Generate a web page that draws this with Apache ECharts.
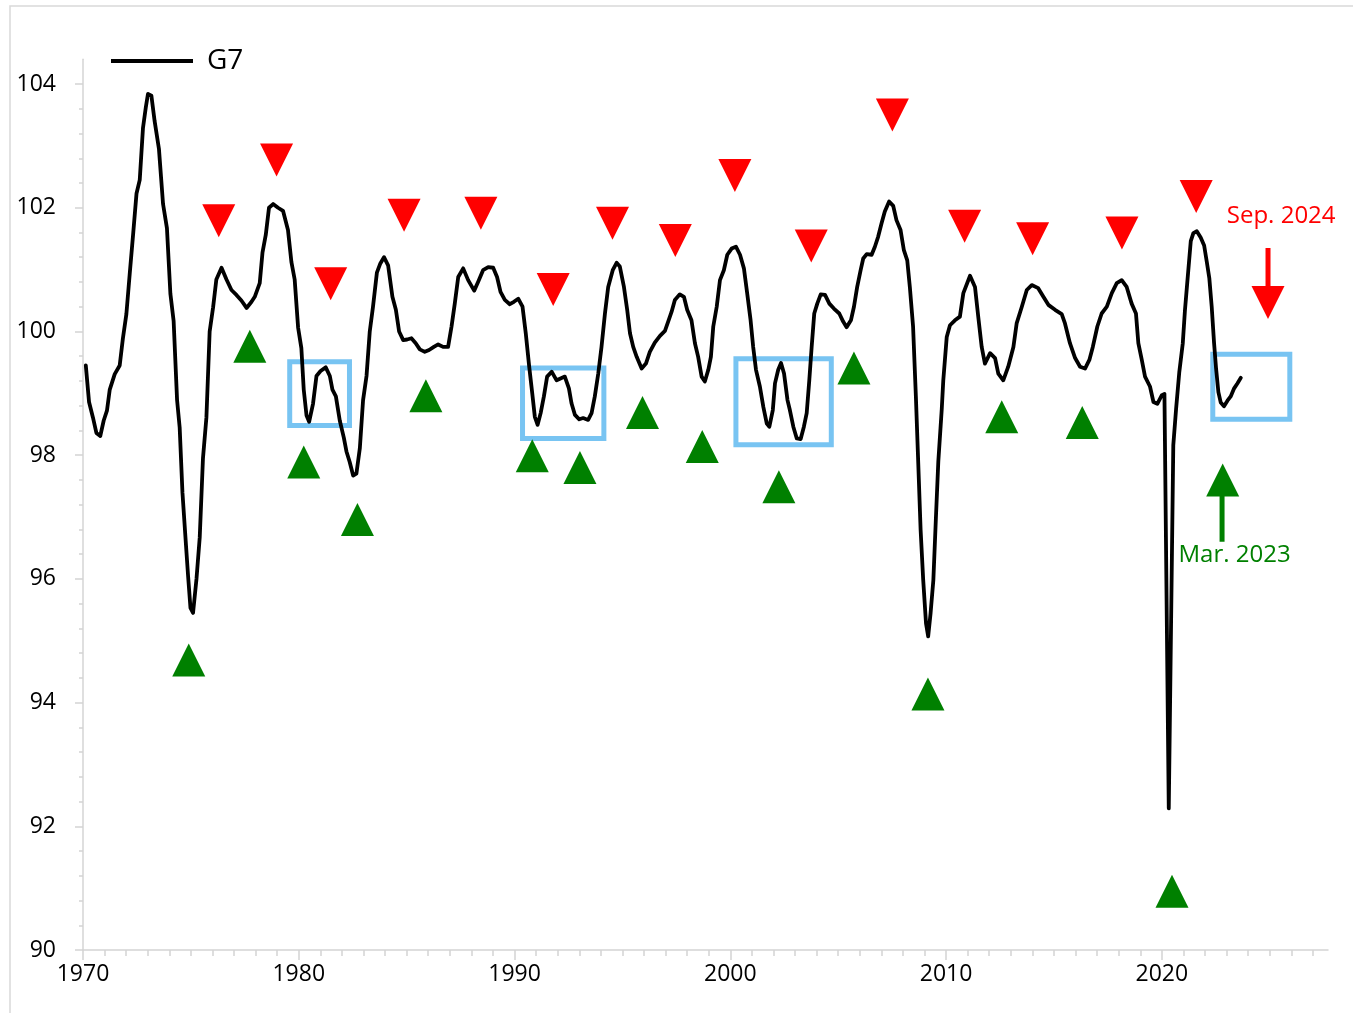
<!DOCTYPE html>
<html><head><meta charset="utf-8">
<script src="https://cdn.jsdelivr.net/npm/echarts@6/dist/echarts.min.js"></script>
<style>html,body{margin:0;padding:0;background:#fff}#c{width:1353px;height:1013px}</style>
</head><body><div id="c"></div>
<script>
// G7 composite leading indicator: [year, value]
const g7 = [
[1970.13,99.45],[1970.28,98.86],[1970.46,98.61],[1970.62,98.36],[1970.8,98.31],[1970.96,98.56],[1971.11,98.72],[1971.24,99.06],[1971.47,99.31],[1971.7,99.45],[1971.85,99.89],[1972.01,100.28],[1972.17,100.95],[1972.32,101.56],[1972.48,102.23],[1972.63,102.45],[1972.78,103.29],[1972.91,103.62],[1973.01,103.84],[1973.17,103.81],[1973.32,103.4],[1973.52,102.95],[1973.71,102.06],[1973.89,101.67],[1974.05,100.61],[1974.2,100.17],[1974.36,98.89],[1974.48,98.45],[1974.61,97.39],[1974.76,96.61],[1974.87,96.05],[1974.98,95.53],[1975.1,95.45],[1975.26,96.0],[1975.41,96.67],[1975.56,97.95],[1975.72,98.61],[1975.87,100.0],[1976.03,100.39],[1976.18,100.84],[1976.42,101.03],[1976.65,100.84],[1976.88,100.67],[1977.11,100.59],[1977.34,100.5],[1977.58,100.38],[1977.81,100.48],[1977.96,100.56],[1978.19,100.78],[1978.32,101.28],[1978.47,101.56],[1978.62,102.0],[1978.81,102.06],[1979.04,102.0],[1979.27,101.95],[1979.5,101.64],[1979.66,101.12],[1979.81,100.84],[1979.97,100.06],[1980.12,99.73],[1980.23,99.06],[1980.36,98.64],[1980.48,98.54],[1980.66,98.83],[1980.82,99.28],[1981.01,99.36],[1981.25,99.42],[1981.44,99.28],[1981.56,99.06],[1981.72,98.95],[1981.9,98.56],[1982.09,98.28],[1982.21,98.06],[1982.36,97.89],[1982.52,97.67],[1982.67,97.7],[1982.83,98.11],[1982.98,98.89],[1983.14,99.28],[1983.29,100.0],[1983.44,100.4],[1983.62,100.95],[1983.78,101.1],[1983.95,101.2],
[1984.14,101.07],[1984.34,100.56],[1984.5,100.35],[1984.65,100.0],[1984.84,99.86],[1985.02,99.87],[1985.22,99.89],[1985.42,99.81],[1985.61,99.71],[1985.84,99.67],[1986.04,99.7],[1986.26,99.75],[1986.46,99.79],[1986.69,99.75],[1986.92,99.75],[1987.08,100.08],[1987.23,100.45],[1987.39,100.88],[1987.62,101.02],[1987.85,100.83],[1988.13,100.66],[1988.31,100.8],[1988.54,100.99],[1988.78,101.04],[1989.01,101.03],[1989.19,100.88],[1989.35,100.64],[1989.55,100.51],[1989.78,100.44],[1989.97,100.48],[1990.17,100.53],[1990.37,100.4],[1990.52,99.97],[1990.68,99.43],[1990.82,99.0],[1990.94,98.62],[1991.07,98.49],[1991.21,98.68],[1991.36,98.95],[1991.51,99.27],[1991.72,99.35],[1991.95,99.21],[1992.13,99.24],[1992.33,99.27],[1992.52,99.08],[1992.64,98.84],[1992.8,98.65],[1993.0,98.58],[1993.18,98.6],[1993.41,98.57],[1993.57,98.68],[1993.72,98.95],[1993.88,99.32],[1994.03,99.75],[1994.19,100.29],[1994.34,100.72],[1994.55,100.99],[1994.73,101.11],[1994.88,101.05],[1995.07,100.72],[1995.22,100.35],[1995.35,99.97],[1995.5,99.75],[1995.66,99.59],[1995.89,99.4],[1996.09,99.48],[1996.27,99.67],[1996.5,99.82],[1996.74,99.93],[1996.97,100.01],
[1997.12,100.16],[1997.28,100.32],[1997.43,100.51],[1997.66,100.6],[1997.85,100.56],[1998.0,100.35],[1998.2,100.18],[1998.36,99.81],[1998.51,99.59],[1998.67,99.27],[1998.82,99.19],[1998.98,99.38],[1999.1,99.59],[1999.21,100.08],[1999.37,100.4],[1999.52,100.83],[1999.7,100.99],[1999.86,101.24],[2000.06,101.34],[2000.26,101.37],[2000.45,101.24],[2000.63,101.02],[2000.78,100.62],[2000.94,100.18],[2001.06,99.75],[2001.19,99.38],[2001.37,99.11],[2001.53,98.78],[2001.69,98.51],[2001.81,98.46],[2001.97,98.73],[2002.07,99.16],[2002.22,99.38],[2002.35,99.49],[2002.49,99.32],[2002.65,98.89],[2002.76,98.73],[2002.92,98.46],[2003.08,98.27],[2003.26,98.26],[2003.41,98.46],[2003.54,98.68],[2003.66,99.21],[2003.77,99.75],[2003.89,100.29],[2004.03,100.45],[2004.19,100.6],[2004.39,100.59],[2004.59,100.45],[2004.8,100.37],[2005.05,100.29],[2005.23,100.16],[2005.39,100.07],[2005.59,100.18],[2005.73,100.4],[2005.88,100.72],[2006.04,100.99],[2006.16,101.18],[2006.32,101.25],[2006.55,101.24],[2006.7,101.37],[2006.85,101.53],[2007.01,101.75],[2007.16,101.94],[2007.36,102.1],[2007.55,102.03],[2007.7,101.8],[2007.89,101.64],[2008.04,101.32],[2008.2,101.15],[2008.32,100.72],[2008.47,100.08],[2008.6,98.95],[2008.71,97.87],[2008.82,96.79],[2008.94,95.98],[2009.07,95.28],[2009.17,95.07],[2009.28,95.44],[2009.41,95.98],[2009.53,97.0],[2009.64,97.9],[2009.8,98.75],[2009.87,99.21],
[2010.03,99.91],[2010.18,100.1],[2010.41,100.18],[2010.64,100.24],[2010.8,100.62],[2011.11,100.9],[2011.34,100.72],[2011.49,100.24],[2011.65,99.75],[2011.8,99.48],[2012.04,99.65],[2012.27,99.57],[2012.42,99.32],[2012.65,99.21],[2012.88,99.43],[2013.12,99.75],[2013.27,100.13],[2013.51,100.4],[2013.74,100.67],[2013.97,100.75],[2014.27,100.7],[2014.51,100.56],[2014.74,100.43],[2015.05,100.35],[2015.36,100.28],[2015.51,100.13],[2015.74,99.81],[2015.98,99.57],[2016.21,99.43],[2016.44,99.4],[2016.64,99.54],[2016.8,99.75],[2017.01,100.08],[2017.21,100.29],[2017.45,100.4],[2017.68,100.62],[2017.91,100.78],[2018.14,100.83],[2018.37,100.72],[2018.6,100.45],[2018.8,100.29],[2018.91,99.81],[2019.07,99.54],[2019.22,99.27],[2019.45,99.11],[2019.61,98.86],[2019.79,98.83],[2020.0,98.97],[2020.12,98.99],[2020.32,92.29],[2020.53,98.16],[2020.66,98.75],[2020.81,99.35],[2020.97,99.81],[2021.07,100.34],[2021.18,100.8],[2021.34,101.46],[2021.46,101.59],[2021.62,101.62],[2021.8,101.52],[2021.96,101.39],[2022.08,101.13],[2022.2,100.86],[2022.31,100.4],[2022.42,99.81],[2022.51,99.41],[2022.62,99.02],[2022.73,98.85],[2022.88,98.79],[2023.04,98.88],[2023.19,98.95],[2023.35,99.08],[2023.5,99.16],[2023.66,99.25]
];
// Peak markers (red, pointing down)
const peakMarks = [[1976.29,101.79],[1978.97,102.77],[1981.48,100.77],[1984.88,101.88],[1988.44,101.91],[1991.79,100.68],[1994.54,101.75],[1997.45,101.47],[2000.21,102.52],[2003.75,101.38],[2007.51,103.5],[2010.86,101.7],[2014.01,101.5],[2018.15,101.59],[2021.59,102.18]];
// Trough markers (green, pointing up)
const troughMarks = [[1974.9,94.69],[1977.73,99.76],[1980.23,97.89],[1982.72,96.96],[1985.89,98.96],[1990.82,97.99],[1993.03,97.8],[1995.93,98.69],[1998.7,98.14],[2002.25,97.49],[2005.73,99.41],[2009.16,94.14],[2012.58,98.62],[2016.31,98.53],[2020.47,90.95]];
// Highlight boxes: [x1, y1, x2, y2]
const boxes = [[1979.58,99.51,1982.35,98.48],[1990.37,99.41,1994.14,98.27],[2000.26,99.56,2004.68,98.17],[2022.36,99.63,2025.93,98.58]];
// Arrows: head position and shaft
const marArrowHead = [2022.82,97.6];
const marArrowShaft = [[2022.79,97.4],[2022.79,96.6]];
const sepArrowHead = [2024.92,100.47];
const sepArrowShaft = [[2024.92,101.35],[2024.92,100.6]];
const notes = [{name:'Mar. 2023', value:[2023.37,96.39], color:'#008000'},{name:'Sep. 2024', value:[2025.53,101.87], color:'#ff0000'}];
// Axis ticks / labels
const xLabels = [1970,1980,1990,2000,2010,2020];
const yLabels = [90,92,94,96,98,100,102,104];
const xMinor = []; for (let y = 1971; y <= 2027; y++) xMinor.push(y);
const yMinor = []; for (let i = 0; i <= 35; i++) yMinor.push(Math.round((90 + i*0.4)*10)/10);

const FONT = '"Open Sans", "Liberation Sans", sans-serif';
const AX = '#d4d4d4';
const chart = echarts.init(document.getElementById('c'));
const xBase = {type:'value', min:1970, max:2027.7, position:'bottom', splitLine:{show:false}};
const yBase = {type:'value', min:90, max:104.4, position:'left', splitLine:{show:false}};
chart.setOption({
  animation:false,
  backgroundColor:'#fff',
  graphic:[{type:'rect', shape:{x:10, y:6, width:1400, height:1100}, style:{fill:'none', stroke:'#d9d9d9', lineWidth:1.5}, silent:true, z:-10}],
  grid:{left:83, right:25, top:59.3, bottom:63, containLabel:false},
  legend:{data:[{name:'G7', icon:'rect', itemStyle:{color:'#000'}}], left:111, top:47, padding:0, itemWidth:82, itemHeight:4,
    textStyle:{fontSize:28, color:'#000', fontFamily:FONT, padding:[0,0,0,9]}},
  xAxis:[
    Object.assign({}, xBase, {axisLine:{onZero:false, lineStyle:{color:AX, width:1.5}}, axisTick:{customValues:xLabels, length:10, lineStyle:{color:AX, width:1.5}}, axisLabel:{customValues:xLabels, formatter:v=>String(v), fontSize:23, color:'#000', fontFamily:FONT, margin:13}}),
    Object.assign({}, xBase, {axisLine:{show:false}, axisTick:{customValues:xMinor, length:6, lineStyle:{color:AX, width:1.5}}, axisLabel:{show:false}})
  ],
  yAxis:[
    Object.assign({}, yBase, {axisLine:{show:true, onZero:false, lineStyle:{color:AX, width:1.5}}, axisTick:{show:true, customValues:yLabels, length:8, lineStyle:{color:AX, width:1.5}}, axisLabel:{customValues:yLabels, formatter:v=>String(v), fontSize:23, color:'#000', fontFamily:FONT, margin:27}}),
    Object.assign({}, yBase, {axisLine:{show:false}, axisTick:{show:true, customValues:yMinor, length:4, lineStyle:{color:AX, width:1.5}}, axisLabel:{show:false}})
  ],
  series:[
    {name:'boxes', type:'scatter', data:[], silent:true, z:2,
     markArea:{silent:true, itemStyle:{color:'rgba(0,0,0,0)', borderColor:'#78c4f2', borderWidth:5, opacity:1}, label:{show:false},
       data: boxes.map(b=>[{coord:[b[0],b[1]]},{coord:[b[2],b[3]]}])}},
    {name:'G7', type:'line', data:g7, showSymbol:false, symbol:'none', z:5,
     lineStyle:{color:'#000', width:3.8, join:'round', cap:'round'}, itemStyle:{color:'#000'}},
    {name:'peaks', type:'scatter', data:peakMarks, symbol:'triangle', symbolRotate:180, symbolSize:[33,33], itemStyle:{color:'#ff0000', opacity:1}, z:4, silent:true},
    {name:'troughs', type:'scatter', data:troughMarks, symbol:'triangle', symbolSize:[33,33], itemStyle:{color:'#008000', opacity:1}, z:4, silent:true},
    {name:'marShaft', type:'line', data:marArrowShaft, symbol:'none', lineStyle:{color:'#008000', width:5}, z:4, silent:true},
    {name:'marHead', type:'scatter', data:[marArrowHead], symbol:'triangle', symbolSize:[33,33], itemStyle:{color:'#008000', opacity:1}, z:4, silent:true},
    {name:'sepShaft', type:'line', data:sepArrowShaft, symbol:'none', lineStyle:{color:'#ff0000', width:5}, z:4, silent:true},
    {name:'sepHead', type:'scatter', data:[sepArrowHead], symbol:'triangle', symbolRotate:180, symbolSize:[33,33], itemStyle:{color:'#ff0000', opacity:1}, z:4, silent:true},
    {name:'notes', type:'scatter', symbolSize:0, z:6, silent:true, itemStyle:{opacity:1},
     data: notes.map(n=>({name:n.name, value:n.value, label:{show:true, position:'inside', formatter:n.name, color:n.color, opacity:1, fontSize:24, fontFamily:FONT}}))}
  ]
});
</script></body></html>
